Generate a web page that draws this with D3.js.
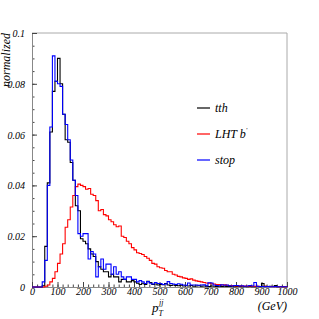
<!DOCTYPE html>
<html><head><meta charset="utf-8">
<script src="https://cdn.jsdelivr.net/npm/d3@7"></script>
<style>body{margin:0;background:#fff}svg{display:block}text{font-family:"Liberation Serif","DejaVu Serif",serif;font-style:italic}</style>
</head><body><div id="chart"></div>
<script>
// bin lower edges: 0,10,...,990 (GeV)
const binEdges = d3.range(0, 1001, 10);
const tth = [0,0,0,0,0.0005,0.016,0.041,0.061,0.077,0.081,
0.090,0.080,0.068,0.058,0.057,0.049,0.042,0.032,0.030,0.019,
0.018,0.017,0.015,0.013,0.012,0.010,0.008,0.007,0.006,0.006,
0.004,0.005,0.004,0.004,0.002,0.003,0.003,0.002,0.002,0.0025,
0.002,0.0015,0.001,0.0015,0.001,0.0022,0.0018,0.001,0.0012,0.0008,
0.001,0.0009,0.0014,0.0008,0.0006,0.0008,0.0006,0.0005,0.0007,0.0004,
0.0005,0.0004,0.0006,0.0003,0.0004,0.0005,0.0003,0.0004,0.0003,0.0002,
0.0004,0.0003,0.0002,0.0003,0.0002,0.0003,0.0002,0.0002,0.0003,0.0001,
0.0002,0.0002,0.0001,0.0002,0.0001,0.0002,0.0001,0.0001,0.0002,0.0001,
0.0014,0.0003,0.0002,0.0003,0.0002,0.0006,0.0001,0.0002,0.0001,0.0001];
const lht = [0,0,0,0,0,0.0003,0.0008,0.002,0.0034,0.006,
0.0093,0.013,0.017,0.0235,0.0265,0.0315,0.036,0.0395,0.0405,0.0400,
0.0395,0.0385,0.0388,0.0365,0.036,0.034,0.030,0.0305,0.0285,0.028,
0.0265,0.0257,0.0245,0.0237,0.024,0.020,0.0195,0.018,0.017,0.0155,
0.0146,0.0135,0.0132,0.0128,0.012,0.0113,0.0105,0.0093,0.009,0.008,
0.0076,0.0074,0.0065,0.006,0.006,0.005,0.0047,0.0042,0.004,0.0036,
0.0034,0.003,0.0032,0.0027,0.0024,0.0022,0.002,0.0018,0.0016,0.0015,
0.0013,0.0012,0.001,0.001,0.0008,0.0009,0.0007,0.0006,0.0006,0.0005,
0.0004,0.0005,0.0004,0.0004,0.0003,0.0004,0.0003,0.0003,0.0003,0.0002,
0.0002,0.0003,0.0002,0.0002,0.0002,0.0001,0.0002,0.0001,0.0001,0.0001];
const stop = [0,0,0,0,0.002,0.0105,0.040,0.063,0.091,0.081,
0.080,0.079,0.068,0.064,0.058,0.050,0.042,0.036,0.021,0.020,
0.021,0.021,0.011,0.014,0.013,0.004,0.008,0.011,0.007,0.009,
0.009,0.005,0.008,0.005,0.006,0.004,0.003,0.004,0.004,0.003,
0.003,0.002,0.0025,0.002,0.0014,0.0021,0.0015,0.0012,0.0018,0.0014,
0.0014,0.001,0.0012,0.0021,0.0014,0.0012,0.001,0.0013,0.0011,0.0008,
0.0007,0.0016,0.0008,0.0008,0.0008,0.0007,0.0008,0.0009,0.0005,0.0017,
0.0016,0.0008,0.0006,0.0005,0.0009,0.0007,0.0008,0.0005,0.0004,0.0006,
0.0006,0.0004,0.0005,0.0003,0.0004,0.0006,0.0004,0.0018,0.0003,0.0002,
0.0002,0.0001,0.0002,0.0001,0.0001,0.0002,0.0001,0.0001,0.0001,0.0001];
const seriesNames = ["tth", "LHT b", "stop"];
const seriesColors = ["#000000", "#ff0000", "#0000ff"];
const yTicks = [0, 0.02, 0.04, 0.06, 0.08, 0.1];
const xTicks = [0, 100, 200, 300, 400, 500, 600, 700, 800, 900, 1000];

const W = 319, H = 319;
const m = {l: 32, r: 32, t: 33, b: 32};
const svg = d3.select("#chart").append("svg").attr("width", W).attr("height", H);
const x = d3.scaleLinear().domain([0, 1000]).range([m.l, W - m.r]);
const y = d3.scaleLinear().domain([0, 0.1]).range([H - m.b, m.t]);

// frame
svg.append("path").attr("d", `M${x(0)},${y(0.1)}H${x(1000)}V${y(0)}`)
  .attr("fill", "none").attr("stroke", "#aaa").attr("stroke-width", 1);

// axes
const fmtY = d => d === 0 ? "0" : d3.format(".2~f")(d);
const yMinor = svg.append("g").attr("transform", `translate(${m.l},0)`)
  .call(d3.axisLeft(y).tickValues(d3.range(0, 0.1001, 0.005)).tickSize(-2.5).tickFormat(""));
const yAx = svg.append("g").attr("transform", `translate(${m.l},0)`)
  .call(d3.axisLeft(y).tickValues(yTicks).tickSize(-5).tickPadding(7).tickFormat(fmtY));
const xMinor = svg.append("g").attr("transform", `translate(0,${y(0)})`)
  .call(d3.axisBottom(x).tickValues(d3.range(0, 1001, 20)).tickSize(-2.5).tickFormat(""));
const xAx = svg.append("g").attr("transform", `translate(0,${y(0)})`)
  .call(d3.axisBottom(x).tickValues(xTicks).tickSize(-5).tickPadding(1).tickFormat(d3.format("d")));
[yMinor, yAx, xMinor, xAx].forEach(g => {
  g.select(".domain").attr("stroke", "#888");
  g.selectAll(".tick line").attr("stroke", "#444");
  g.selectAll("text").attr("font-size", 10).attr("fill", "#000")
    .attr("font-family", "Liberation Serif").attr("font-style", "italic");
});
yAx.selectAll("text").attr("dy", "0.35em");
xAx.selectAll("text").attr("dy", "0.71em");

// histograms
function stepPts(vals) {
  const pts = [[0, 0]];
  vals.forEach((v, i) => { pts.push([binEdges[i], v]); pts.push([binEdges[i + 1], v]); });
  pts.push([1000, 0]);
  return pts;
}
const line = d3.line().x(d => x(d[0])).y(d => y(d[1]));
[tth, lht, stop].forEach((s, i) => {
  svg.append("path").attr("d", line(stepPts(s))).attr("fill", "none")
    .attr("stroke", seriesColors[i]).attr("stroke-width", 1.1).attr("stroke-linejoin", "miter");
});

// legend
const legY = [108, 134, 160];
seriesNames.forEach((n, i) => {
  svg.append("line").attr("x1", 197).attr("x2", 210).attr("y1", legY[i]).attr("y2", legY[i])
    .attr("stroke", seriesColors[i]).attr("stroke-width", 1.2);
  const t = svg.append("text").attr("x", 215).attr("y", legY[i] + 4).attr("font-size", 12).text(n);
  if (i === 1) t.append("tspan").attr("dy", -6).attr("font-size", 7).text("'");
});

// axis titles
svg.append("text").attr("transform", `translate(10,${m.t}) rotate(-90)`)
  .attr("text-anchor", "end").attr("font-size", 12).text("normalized");
const xt = svg.append("text").attr("x", 152).attr("y", 312).attr("font-size", 13);
xt.append("tspan").text("p");
xt.append("tspan").attr("font-size", 8).attr("dy", 4).text("T");
xt.append("tspan").attr("font-size", 8).attr("dx", -4).attr("dy", -11).text("jj");
svg.append("text").attr("x", W - m.r).attr("y", 310).attr("text-anchor", "end")
  .attr("font-size", 12).text("(GeV)");
</script></body></html>
